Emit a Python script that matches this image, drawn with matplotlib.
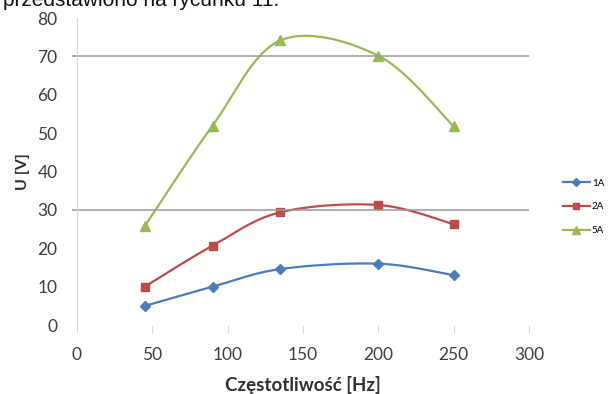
import numpy as np
import matplotlib.pyplot as plt

# dane z wykresu
freq = [45, 90, 135, 200, 250]
u_1A = [5.0, 10.0, 14.6, 16.0, 13.0]
u_2A = [10.0, 20.7, 29.4, 31.3, 26.3]
u_5A = [25.8, 52.0, 74.2, 70.2, 51.8]
labels = ['1A', '2A', '5A']
colors = ['#4a7ebb', '#be4b48', '#98b954']
markers = ['D', 's', '^']
msizes = [5, 6, 6.5]


#%% wygładzanie jak w Excelu (Bezier, Catmull-Rom)
def gladka(x, y, n=40):
    P = np.column_stack((x, y)).astype(float)
    P = np.vstack((P[0], P, P[-1]))
    out = []
    for i in range(1, len(P) - 2):
        p0, p1, p2, p3 = P[i - 1], P[i], P[i + 1], P[i + 2]
        c1 = p1 + (p2 - p0) / 6
        c2 = p2 - (p3 - p1) / 6
        t = np.linspace(0, 1, n)[:, None]
        b = (1 - t)**3 * p1 + 3 * (1 - t)**2 * t * c1 + 3 * (1 - t) * t**2 * c2 + t**3 * p2
        out.append(b)
    B = np.vstack(out)
    return B[:, 0], B[:, 1]


plt.rcParams['font.family'] = ['Lato', 'DejaVu Sans']

fig = plt.figure(figsize=(6.13, 3.94), dpi=100)
ax = fig.add_axes([0.1256, 0.175, 0.7374, 0.779])

for y, lab, c, m, ms in zip([u_1A, u_2A, u_5A], labels, colors, markers, msizes):
    xs, ys = gladka(freq, y)
    ax.plot(xs, ys, color=c, lw=1.6)
    ax.plot(freq, y, ls='none', marker=m, color=c, ms=ms)
    ax.plot([], [], color=c, lw=1.6, marker=m, ms=ms - 1, label=lab)

ax.hlines([30, 70], -3.3, 300, colors='#9a9a9a', lw=1.1, clip_on=False)

ax.set_xlim(0, 300)
ax.set_ylim(0, 80)
ax.set_xticks(range(0, 301, 50))
ax.set_yticks(range(0, 81, 10))
for s in ['top', 'right', 'bottom']:
    ax.spines[s].set_visible(False)
ax.spines['left'].set_color('#d9d9d9')
ax.tick_params(axis='x', direction='out', length=6, color='#d9d9d9', pad=9.5,
               labelsize=12.5, labelcolor='#404040')
ax.tick_params(axis='y', length=0, pad=14, labelsize=12.5, labelcolor='#404040')

ax.set_xlabel('Częstotliwość [Hz]', fontsize=13.5, fontweight='bold', color='#303030', labelpad=10)
ax.set_ylabel('U [V]', fontsize=11.5, fontweight='bold', color='#303030', labelpad=5)

ax.legend(loc='center left', bbox_to_anchor=(0.918, 0.475), bbox_transform=fig.transFigure,
          frameon=False, fontsize=7, handlelength=2.8, handletextpad=0.2,
          labelspacing=1.5, borderpad=0, borderaxespad=0)

fig.text(0.005, 0.985, 'przedstawiono na rycunku 11.', fontsize=15,
         family='Liberation Sans', va='baseline', ha='left', color='#111111')

fig.savefig('out.png', dpi=100)
